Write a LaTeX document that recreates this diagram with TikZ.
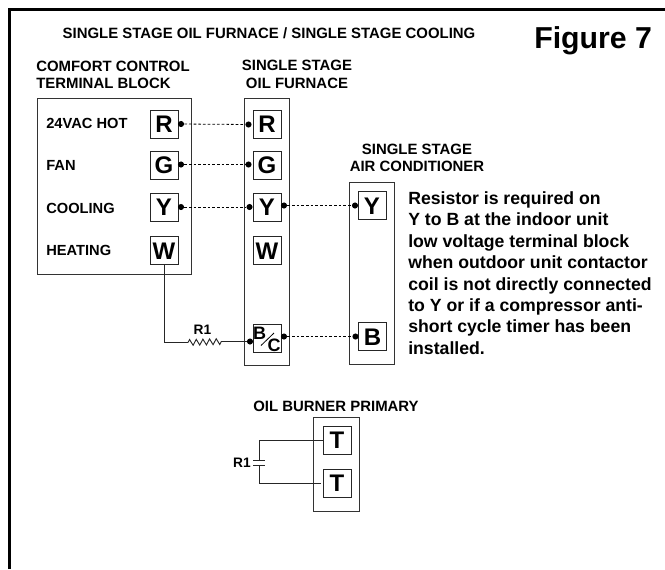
\documentclass[tikz,border=0pt]{standalone}
\usepackage{fontspec}
\setmainfont{Liberation Sans}[BoldFont={Liberation Sans Bold}]
\usetikzlibrary{decorations.pathmorphing}
\newcommand{\fs}[2]{\fontsize{#1}{#2}\selectfont\bfseries}
\tikzset{
  box/.style={draw=black!80,line width=0.7pt},
  term/.style={draw=black!85,line width=0.75pt,minimum width=21pt,minimum height=21pt,inner sep=0pt,text height=12.9pt,text depth=0pt,font=\fs{18}{18}},
  dotn/.style={circle,fill=black,inner sep=0pt,minimum size=4.6pt},
  dotted wire/.style={line width=0.6pt,dash pattern=on 2pt off 1.5pt},
  wire/.style={line width=0.7pt,black!85},
  head/.style={inner sep=0pt,font=\fs{11.2}{13.2}},
  lab/.style={inner sep=0pt,anchor=base west,font=\fs{11}{13}},
  small/.style={inner sep=0pt,anchor=base,font=\fs{10.3}{12}}
}
\begin{document}
\begin{tikzpicture}[x=0.75pt,y=-0.75pt]
\useasboundingbox (0,0) rectangle (665,569);
\draw[line width=2.2pt] (9.5,569) -- (9.5,9.5) -- (665,9.5);
% titles
\node[inner sep=0pt,anchor=base,font=\fs{11.2}{13}] (title) at (269,38) {SINGLE STAGE OIL FURNACE / SINGLE STAGE COOLING};
\node[inner sep=0pt,anchor=base west,font=\fs{22.7}{26}] (fig) at (534,48) {Figure 7};
\node[head,anchor=north west,align=left] (h1) at (36,60.5) {COMFORT CONTROL\\TERMINAL BLOCK};
\node[head,anchor=north,align=center] (h2) at (297,60) {SINGLE STAGE\\OIL FURNACE};
\node[head,anchor=north,align=center] (h3) at (417,143.5) {SINGLE STAGE\\AIR CONDITIONER};
\node[inner sep=0pt,anchor=base,font=\fs{11.2}{13}] (h4) at (336,411) {OIL BURNER PRIMARY};
% enclosures
\draw[box] (37.5,98) rectangle (191,274);
\draw[box] (244,98) rectangle (289,365.5);
\draw[box] (349,182.5) rectangle (394,364);
\draw[box] (313.5,417.5) rectangle (359,511);
% left labels
\node[lab] (l1) at (46,128.5) {24VAC HOT};
\node[lab] (l2) at (46,170) {FAN};
\node[lab] (l3) at (46,213) {COOLING};
\node[lab] (l4) at (46,255) {HEATING};
% terminals
\node[term] (cR) at (164,124) {R};
\node[term] (cG) at (164,165) {G};
\node[term] (cY) at (164,207) {Y};
\node[term] (cW) at (164,250.5) {W};
\node[term] (fR) at (267,124) {R};
\node[term] (fG) at (267,165) {G};
\node[term] (fY) at (267,207) {Y};
\node[term] (fW) at (267,250.5) {W};
\node[term] (fB) at (267,338) {};
\node[term] (aY) at (372,205.5) {Y};
\node[term] (aB) at (372.5,336.5) {B};
\node[term] (pT) at (337,440) {T};
\node[term] (pU) at (337,483) {T};
% B/C
\node[inner sep=0pt,font=\fs{13.5}{14}] (bb) at (259.5,333) {B};
\node[inner sep=0pt,font=\fs{13.5}{14}] (bc) at (274,345) {C};
\coordinate (s1) at (261,345.5);
\coordinate (s2) at (274,333);
\draw[line width=0.6pt] (s1) -- (s2);
% dots
\node[dotn] (d1) at (181,124) {};
\node[dotn] (d2) at (248.5,124.5) {};
\node[dotn] (d3) at (181,164.5) {};
\node[dotn] (d4) at (248.5,164.5) {};
\node[dotn] (d5) at (181,207) {};
\node[dotn] (d6) at (249.5,207) {};
\node[dotn] (d7) at (284,205.5) {};
\node[dotn] (d8) at (355,205.5) {};
\node[dotn] (d9) at (250,341.5) {};
\node[dotn] (d10) at (284,336.5) {};
\node[dotn] (d11) at (355.5,336.5) {};
\draw[dotted wire] (d1) -- (d2);
\draw[dotted wire] (d3) -- (d4);
\draw[dotted wire] (d5) -- (d6);
\draw[dotted wire] (d7) -- (d8);
\draw[dotted wire] (d10) -- (d11);
% resistor
\coordinate (ra) at (188,342.5);
\coordinate (rb) at (222,341.5);
\draw[wire] (cW.south) |- (ra);
\draw[wire,decorate,decoration={zigzag,segment length=5,amplitude=2.2}] (ra) -- (rb);
\draw[wire] (rb) -- (d9);
\node[small] (r1) at (202.5,334) {R1};
% capacitor
\coordinate (c1) at (259,460);
\coordinate (c2) at (259,465);
\coordinate (pe) at (321,483);
\draw[wire] (pT.west) -| (c1);
\draw[wire] (pe) -| (c2);
\draw[wire] (253,460) -- (265,460);
\draw[wire] (253,465) -- (265,465);
\node[small] (r2) at (242,467) {R1};
% note
\node[inner sep=0pt,anchor=north west,align=left,font=\fs{13.25}{16.05}] (note) at (408,191.5) {Resistor is required on\\Y to B at the indoor unit\\low voltage terminal block\\when outdoor unit contactor\\coil is not directly connected\\to Y or if a compressor anti-\\short cycle timer has been\\installed.};
\end{tikzpicture}
\end{document}
